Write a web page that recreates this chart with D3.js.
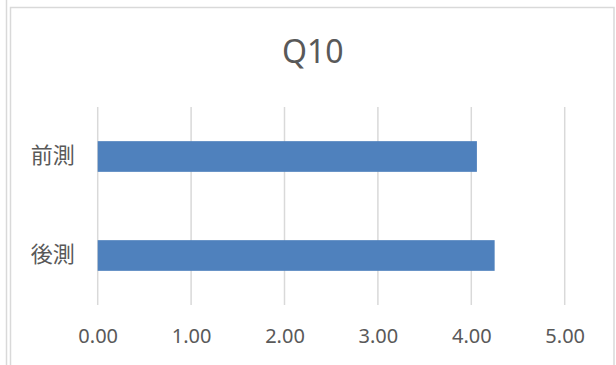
<!DOCTYPE html>
<meta charset="utf-8">
<script src="https://d3js.org/d3.v7.min.js"></script>
<style>
  body { margin: 0; background: #fff; }
  text { font-family: "Noto Sans", "Noto Sans CJK JP", sans-serif; fill: #595959; }
</style>
<div id="chart"></div>
<script>

// data
var categories = ["前測", "後測"];
var values = [4.06, 4.25];
var tickValues = [0, 1, 2, 3, 4, 5];
var title = "Q10";

var W = 616, H = 365;

var svg = d3.select("#chart")
  .append("svg")
    .attr("width", W)
    .attr("height", H);

// outer cell line + chart frame
svg.append("line")
  .attr("x1", 6.5).attr("x2", 6.5)
  .attr("y1", 0).attr("y2", H)
  .attr("stroke", "#d9d9d9").attr("stroke-width", 1.5);

svg.append("rect")
  .attr("x", 10.5).attr("y", 7.5)
  .attr("width", 603.5).attr("height", H)
  .attr("fill", "none")
  .attr("stroke", "#d9d9d9").attr("stroke-width", 1.5);

var plotTop = 107, plotBottom = 305;

var x = d3.scaleLinear()
  .domain([0, 5])
  .range([97.7, 564.7]);

var y = d3.scaleBand()
  .domain(categories)
  .range([plotTop, plotBottom])
  .paddingInner(0.69)
  .paddingOuter(0.345);

// gridlines
svg.append("g")
  .selectAll("line")
  .data(tickValues)
  .enter()
  .append("line")
    .attr("x1", function(d) { return x(d); })
    .attr("x2", function(d) { return x(d); })
    .attr("y1", plotTop)
    .attr("y2", plotBottom)
    .attr("stroke", "#d9d9d9")
    .attr("stroke-width", 1.5);

// bars
svg.append("g")
  .selectAll("rect")
  .data(categories)
  .enter()
  .append("rect")
    .attr("x", x(0))
    .attr("y", function(d) { return y(d); })
    .attr("width", function(d, i) { return x(values[i]) - x(0); })
    .attr("height", y.bandwidth())
    .attr("fill", "#4f81bd");

// x axis labels
var xAxis = svg.append("g")
  .attr("transform", "translate(0," + plotBottom + ")")
  .call(d3.axisBottom(x).tickValues(tickValues).tickFormat(d3.format(".2f")).tickSize(0).tickPadding(24));
xAxis.select(".domain").remove();
xAxis.selectAll("text")
  .attr("fill", "#595959")
  .style("font-size", "20px")
  .style("font-family", "'Noto Sans', sans-serif");

// y axis labels
var yAxis = svg.append("g")
  .attr("transform", "translate(" + x(0) + ",0)")
  .call(d3.axisLeft(y).tickSize(0).tickPadding(23));
yAxis.select(".domain").remove();
yAxis.selectAll("text")
  .attr("fill", "#6a6a6a")
  .attr("dy", "0.3em")
  .style("font-size", "22px")
  .style("font-family", "'Noto Sans CJK JP', sans-serif");

// title
svg.append("text")
  .attr("x", 312.7)
  .attr("y", 63)
  .attr("text-anchor", "middle")
  .style("font-size", "32px")
  .text(title);

</script>
